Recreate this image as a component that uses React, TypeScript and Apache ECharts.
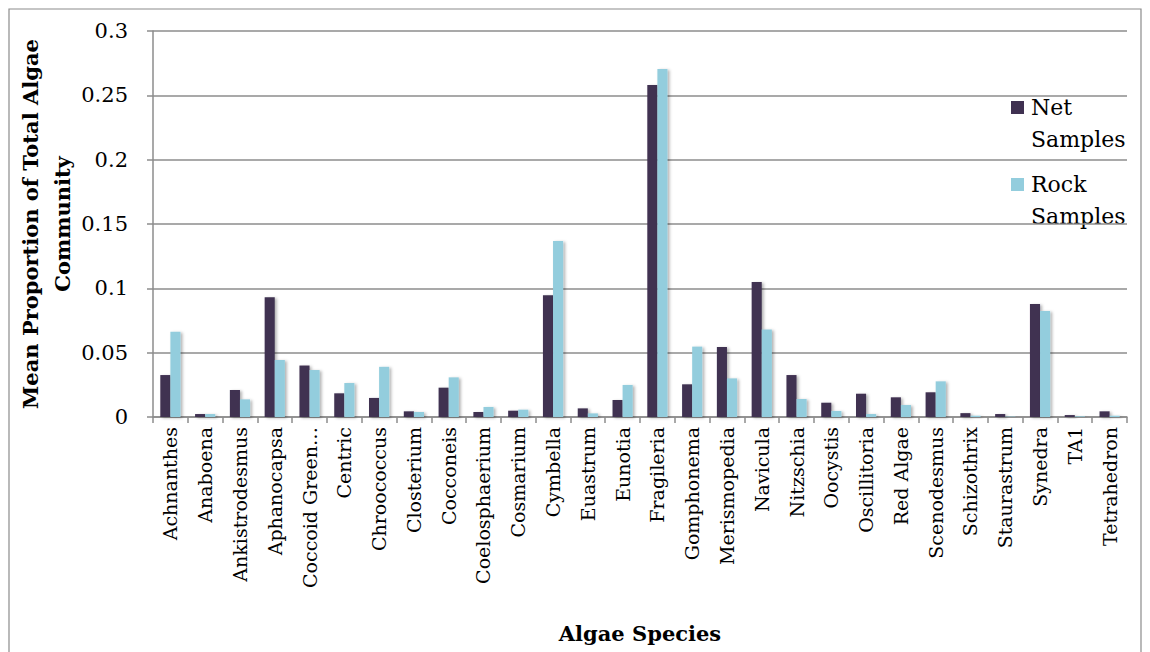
import React, { useEffect, useRef } from "react";
import * as echarts from "echarts";

const species = [
  "Achnanthes", "Anaboena", "Ankistrodesmus", "Aphanocapsa", "Coccoid Green…",
  "Centric", "Chroococcus", "Closterium", "Cocconeis", "Coelosphaerium",
  "Cosmarium", "Cymbella", "Euastrum", "Eunotia", "Fragileria",
  "Gomphonema", "Merismopedia", "Navicula", "Nitzschia", "Oocystis",
  "Oscillitoria", "Red Algae", "Scenodesmus", "Schizothrix", "Staurastrum",
  "Synedra", "TA1", "Tetrahedron",
];

const netSamples = [
  0.0326, 0.0023, 0.021, 0.093, 0.040,
  0.0184, 0.0148, 0.0044, 0.0228, 0.0039,
  0.0049, 0.0946, 0.0067, 0.0132, 0.258,
  0.0254, 0.0544, 0.105, 0.0326, 0.0111,
  0.0181, 0.0153, 0.0192, 0.003, 0.0023,
  0.0878, 0.0015, 0.0044,
];

const rockSamples = [
  0.0663, 0.0023, 0.0137, 0.0443, 0.0365,
  0.0264, 0.039, 0.0039, 0.0308, 0.0078,
  0.0057, 0.1368, 0.0028, 0.0249, 0.2705,
  0.0547, 0.030, 0.0681, 0.014, 0.0047,
  0.0023, 0.0093, 0.0277, 0.001, 0.0003,
  0.0824, 0.0005, 0.001,
];

const yTicks = [0, 0.05, 0.1, 0.15, 0.2, 0.25, 0.3];
const legendNames = ["Net Samples", "Rock Samples"];

const FONT = "'DejaVu Serif', 'Liberation Serif', serif";
const NET_COLOR = "#3F3151";
const ROCK_COLOR = "#93CDDD";
const AXIS_GRAY = "#8C8C8C";

export default function App() {
  const ref = useRef<HTMLDivElement>(null);

  useEffect(() => {
    if (!ref.current) return;
    const chart = echarts.init(ref.current, null, { renderer: "svg" });
    const barShadow = {
      shadowColor: "rgba(0,0,0,0.3)",
      shadowBlur: 3,
      shadowOffsetX: 2,
      shadowOffsetY: 1,
    };

    // Legend drawn as graphic items: swatch beside a two-line label
    const legendColors = [NET_COLOR, ROCK_COLOR];
    const legendItems = legendNames.map((name, i) => ({
      type: "group",
      x: 1003,
      y: 93 + i * 77,
      silent: true,
      children: [
        {
          type: "rect",
          shape: { x: 0, y: 0, width: 13, height: 13 },
          style: { fill: legendColors[i] },
        },
        {
          type: "text",
          x: 20,
          y: -10,
          style: {
            text: name.replace(" ", "\n"),
            font: `22px ${FONT}`,
            fill: "#000",
            lineHeight: 32,
            verticalAlign: "top",
          },
        },
      ],
    }));

    chart.setOption({
      animation: false,
      textStyle: { fontFamily: FONT },
      graphic: [
        {
          type: "rect",
          shape: { x: 1, y: 1, width: 1132, height: 700 },
          style: { fill: "none", stroke: AXIS_GRAY, lineWidth: 1.2 },
          silent: true,
        },
        ...legendItems,
      ],
      grid: {
        left: 145,
        right: 23,
        top: 23,
        bottom: 235,
        containLabel: false,
        outerBoundsMode: "none",
      },
      xAxis: {
        type: "category",
        data: species,
        boundaryGap: true,
        name: "Algae Species",
        nameLocation: "middle",
        nameGap: 206,
        nameMoveOverlap: false,
        nameTextStyle: { fontFamily: FONT, fontSize: 21, fontWeight: "bold", color: "#000" },
        axisLine: { lineStyle: { color: AXIS_GRAY, width: 1.5 } },
        axisTick: { show: true, length: 6, alignWithLabel: false, lineStyle: { color: AXIS_GRAY, width: 1.5 } },
        axisLabel: {
          interval: 0,
          rotate: 90,
          margin: 10,
          fontFamily: FONT,
          fontSize: 19,
          color: "#000",
        },
      },
      yAxis: {
        type: "value",
        min: 0,
        max: 0.3,
        interval: 0.05,
        name: "Mean Proportion of Total Algae\nCommunity",
        nameLocation: "middle",
        nameGap: 75,
        nameMoveOverlap: false,
        nameTextStyle: { fontFamily: FONT, fontSize: 21, fontWeight: "bold", color: "#000", lineHeight: 32 },
        axisLine: { show: true, lineStyle: { color: AXIS_GRAY, width: 1.5 } },
        axisTick: { show: true, length: 6, lineStyle: { color: AXIS_GRAY, width: 1.5 } },
        splitLine: { lineStyle: { color: AXIS_GRAY, width: 1.5 } },
        axisLabel: {
          margin: 25,
          fontFamily: FONT,
          fontSize: 21,
          color: "#000",
          formatter: (v: number) => {
            const hit = yTicks.find((t) => Math.abs(t - v) < 1e-9);
            return hit === undefined ? "" : String(hit);
          },
        },
      },
      series: [
        {
          name: legendNames[0],
          type: "bar",
          data: netSamples,
          barGap: "0%",
          barCategoryGap: "42%",
          itemStyle: { color: NET_COLOR, ...barShadow },
        },
        {
          name: legendNames[1],
          type: "bar",
          data: rockSamples,
          barGap: "0%",
          barCategoryGap: "42%",
          itemStyle: { color: ROCK_COLOR, ...barShadow },
        },
      ],
    });
    return () => chart.dispose();
  }, []);

  return <div ref={ref} style={{ width: 1142, height: 644 }} />;
}
